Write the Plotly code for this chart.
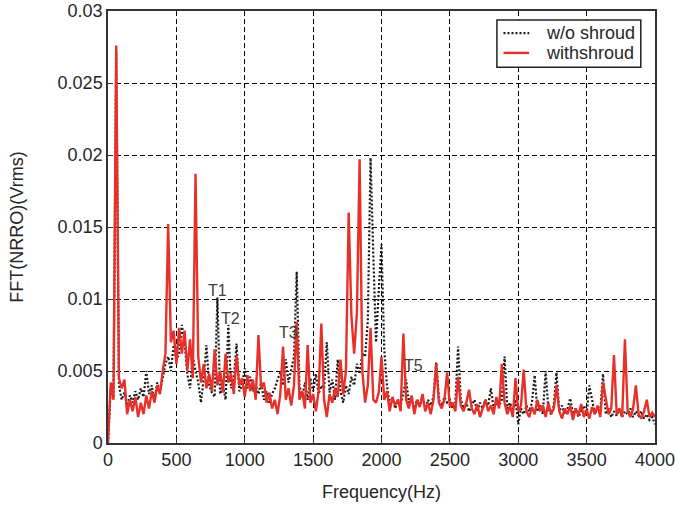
import plotly.graph_objects as go

# Frequency bins (Hz), 20 Hz spacing from 0 to 4000
freq_step = 20
freq = [i * freq_step for i in range(201)]

# Amplitudes, in units of 1e-4 Vrms
wo_shroud_e4 = [
    0, 38, 32, 272, 40, 30, 35, 26, 33, 28,          # 0-180
    36, 30, 38, 32, 50, 34, 40, 30, 42, 36,          # 200-380
    45, 55, 60, 50, 68, 58, 62, 82, 70, 48,          # 400-580
    38, 60, 50, 42, 28, 45, 68, 40, 35, 32,          # 600-780
    101, 34, 40, 30, 82, 38, 45, 69, 36, 40,         # 800-980
    52, 38, 46, 36, 40, 34, 42, 30, 36, 28,          # 1000-1180
    34, 38, 44, 49, 40, 58, 42, 50, 60, 119,         # 1200-1380
    40, 32, 42, 30, 45, 36, 48, 34, 40, 38,          # 1400-1580
    70, 35, 44, 30, 58, 36, 28, 40, 34, 46,          # 1600-1780
    40, 55, 48, 62, 60, 85, 198, 131, 70, 106,       # 1800-1980
    138, 65, 40, 26, 32, 24, 30, 26, 35, 44,         # 2000-2180
    28, 32, 24, 30, 26, 32, 24, 30, 26, 32,          # 2200-2380
    56, 30, 26, 32, 28, 30, 24, 28, 67, 30,          # 2400-2580
    24, 28, 22, 26, 30, 22, 28, 24, 30, 26,          # 2600-2780
    38, 24, 28, 26, 30, 60, 24, 28, 22, 30,          # 2800-2980
    13, 24, 20, 26, 22, 28, 47, 22, 26, 20,          # 3000-3180
    50, 24, 20, 26, 49, 22, 26, 20, 24, 31,          # 3200-3380
    20, 24, 18, 22, 26, 20, 40, 30, 20, 24,          # 3400-3580
    22, 48, 20, 24, 18, 22, 19, 23, 18, 22,          # 3600-3780
    20, 24, 18, 22, 19, 22, 17, 20, 16, 18,          # 3800-3980
    13,                                              # 4000
]

with_shroud_e4 = [
    0, 42, 30, 276, 45, 38, 44, 20, 30, 22,          # 0-180
    32, 18, 28, 20, 33, 24, 36, 28, 40, 34,          # 200-380
    50, 62, 152, 70, 78, 55, 80, 62, 78, 50,         # 400-580
    72, 45, 187, 60, 42, 55, 38, 48, 36, 65,         # 600-780
    40, 50, 35, 62, 42, 48, 34, 61, 40, 45,          # 800-980
    32, 47, 36, 44, 30, 75, 38, 42, 28, 35,          # 1000-1180
    24, 30, 20, 34, 67, 30, 38, 26, 40, 84,          # 1200-1380
    30, 36, 24, 68, 28, 34, 22, 36, 83, 30,          # 1400-1580
    18, 34, 28, 38, 32, 58, 34, 50, 160, 88,         # 1600-1780
    62, 90, 197, 50, 28, 40, 80, 30, 28, 35,         # 1800-1980
    60, 30, 36, 22, 32, 26, 30, 22, 76, 30,          # 2000-2180
    24, 33, 20, 30, 25, 34, 22, 28, 20, 30,          # 2200-2380
    55, 28, 24, 30, 49, 25, 28, 22, 46, 26,          # 2400-2580
    22, 28, 37, 24, 20, 27, 18, 25, 30, 22,          # 2600-2780
    26, 20, 32, 24, 55, 28, 20, 26, 18, 45,          # 2800-2980
    22, 26, 51, 22, 18, 25, 20, 30, 22, 26,          # 3000-3180
    18, 28, 20, 24, 40, 22, 17, 24, 20, 26,          # 3200-3380
    16, 24, 19, 27, 18, 23, 17, 25, 20, 26,          # 3400-3580
    18, 42, 31, 20, 24, 61, 20, 24, 18, 72,          # 3600-3780
    22, 18, 24, 40, 20, 17, 22, 30, 18, 21,          # 3800-3980
    18,                                              # 4000
]

wo_shroud = [v * 1e-4 for v in wo_shroud_e4]
with_shroud = [v * 1e-4 for v in with_shroud_e4]

series_names = ["w/o shroud", "withshroud"]

x_ticks = [0, 500, 1000, 1500, 2000, 2500, 3000, 3500, 4000]
y_ticks = [0, 0.005, 0.01, 0.015, 0.02, 0.025, 0.03]
y_tick_labels = ["0", "0.005", "0.01", "0.015", "0.02", "0.025", "0.03"]

# Peak labels (text, frequency, amplitude)
peak_labels = ["T1", "T2", "T3", "T5"]
peak_label_freq = [798, 893, 1320, 2232]
peak_label_amp = [0.01062, 0.00868, 0.00770, 0.00535]

FONT = "Liberation Sans, Arial, Helvetica, sans-serif"
TXT = "#262626"
BLACK_LINE = dict(color="#1a1a1a", width=2.2, dash="2px,2px")
RED_LINE = dict(color="#e8302a", width=2.4)

fig = go.Figure()
fig.add_trace(go.Scatter(x=freq, y=wo_shroud, mode="lines", name=series_names[0],
                         line=BLACK_LINE, showlegend=False))
fig.add_trace(go.Scatter(x=freq, y=with_shroud, mode="lines", name=series_names[1],
                         line=RED_LINE, showlegend=False))

for t, fx, fy in zip(peak_labels, peak_label_freq, peak_label_amp):
    fig.add_annotation(x=fx, y=fy, text=t, showarrow=False,
                       font=dict(family=FONT, size=16, color="#404040"))

# Legend box (MATLAB-style, compact rows), drawn in paper coordinates
fig.add_shape(type="rect", xref="paper", yref="paper", x0=0.711, x1=0.974, y0=0.870, y1=0.979,
              line=dict(color="#222222", width=1.5), fillcolor="white", layer="above")
legend_rows_y = [0.949, 0.903]
for name, style, ly in zip(series_names, [BLACK_LINE, RED_LINE], legend_rows_y):
    fig.add_shape(type="line", xref="paper", yref="paper", x0=0.723, x1=0.77, y0=ly, y1=ly,
                  line=style, layer="above")
    fig.add_annotation(xref="paper", yref="paper", x=0.797, y=ly, text=name, showarrow=False,
                       xanchor="left", yanchor="middle",
                       font=dict(family=FONT, size=18, color=TXT))

axis_common = dict(
    showline=True, linecolor="#333333", linewidth=1.5, mirror=True,
    ticks="inside", ticklen=5, tickcolor="#333333",
    showgrid=True, gridcolor="#000000", gridwidth=1, griddash="5px,3px",
    zeroline=False, automargin=False,
    tickfont=dict(family=FONT, size=18, color=TXT),
)

fig.update_xaxes(range=[0, 4000], tickvals=x_ticks,
                 title=dict(text="Frequency(Hz)", font=dict(family=FONT, size=18, color=TXT), standoff=16),
                 **axis_common)
fig.update_yaxes(range=[0, 0.03], tickvals=y_ticks, ticktext=y_tick_labels,
                 title=dict(text="FFT(NRRO)(Vrms)", font=dict(family=FONT, size=18, color=TXT), standoff=29),
                 **axis_common)

fig.update_layout(
    width=680, height=510,
    margin=dict(l=108, r=25, t=11, b=67),
    paper_bgcolor="white", plot_bgcolor="white",
    showlegend=False,
)

fig.write_html("out.html", config={"displayModeBar": False},
               post_script=["document.body.style.margin='0';"])
